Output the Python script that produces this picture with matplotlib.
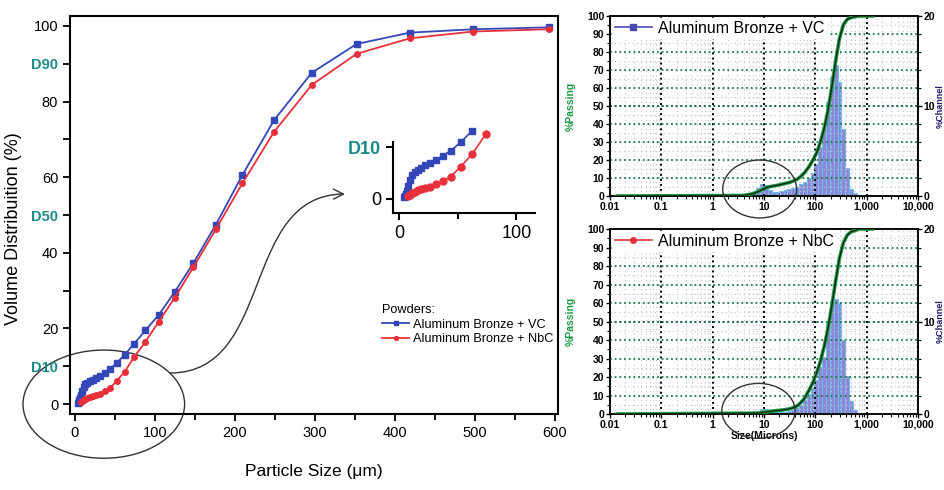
import numpy as np
import matplotlib.pyplot as plt
from matplotlib.patches import Ellipse, FancyArrowPatch
from matplotlib.path import Path
from matplotlib.lines import Line2D

plt.rcParams['font.family'] = ['Liberation Sans', 'DejaVu Sans']

# cumulative volume distribution (%) vs particle size (um)
vc_size = [3.89, 4.62, 5.5, 6.54, 7.78, 9.25, 11, 13.08, 15.56, 18.5, 22, 26.16,
           31.11, 37, 44, 52.33, 62.23, 74, 88, 104.7, 124.5, 148, 176, 209.3,
           248.9, 296, 352, 418.6, 497.8, 592]
vc_pass = [0.3, 0.6, 1.0, 1.6, 2.5, 3.6, 4.6, 5.2, 5.6, 6.0, 6.5, 7.0,
           7.5, 8.3, 9.3, 10.9, 13.1, 16.0, 19.5, 23.6, 29.6, 37.3, 47.4, 60.6,
           75.1, 87.6, 95.2, 98.2, 99.1, 99.6]
nbc_size = [7.78, 9.25, 11, 13.08, 15.56, 18.5, 22, 26.16, 31.11, 37, 44, 52.33,
            62.23, 74, 88, 104.7, 124.5, 148, 176, 209.3, 248.9, 296, 352,
            418.6, 497.8, 592]
nbc_pass = [0.5, 0.8, 1.1, 1.4, 1.7, 1.9, 2.1, 2.4, 2.8, 3.4, 4.3, 6.2,
            8.6, 12.5, 16.5, 21.8, 28.1, 36.2, 46.2, 58.4, 72.0, 84.4, 92.6,
            96.7, 98.5, 99.1]

# %channel histograms (right panels)
vc_chan = [0.0, 0.1, 0.3, 0.6, 0.9, 1.3, 1.2, 0.7, 0.5, 0.5, 0.6, 0.7,
           0.8, 0.9, 1.0, 1.3, 1.6, 2.0, 2.6, 3.6, 5.4, 7.7, 10.4, 13.2,
           14.6, 12.7, 7.4, 3.1, 0.8, 0.3]
nbc_chan = [0.2, 0.5, 0.5, 0.3, 0.2, 0.2, 0.2, 0.2, 0.3, 0.4, 0.7, 1.0,
            1.5, 2.2, 2.8, 3.7, 5.1, 6.2, 10.0, 12.2, 12.4, 12.0, 8.0,
            4.1, 1.4, 0.4]

# flat ends of the %passing curves on the log panels
low_end, high_end = [0.0138], [704, 1300]

main_yticks = [0, 10, 20, 30, 40, 50, 60, 70, 80, 90, 100]
main_ylabels = ['0', 'D10', '20', '', '40', 'D50', '60', '', '80', 'D90', '100']
log_ticks = [0.01, 0.1, 1, 10, 100, 1000, 10000]
log_labels = ['0.01', '0.1', '1', '10', '100', '1,000', '10,000']

BLUE = '#3447b8'
RED = '#e8303a'
TEAL = '#1d8a8a'
GREEN = '#1e9a45'

W, H = 945, 490
fig = plt.figure(figsize=(W / 100, H / 100), dpi=100)


def rect(x0, y0, x1, y1):
    # pixel box -> figure fraction
    return [x0 / W, 1 - y1 / H, (x1 - x0) / W, (y1 - y0) / H]


# ---- main cumulative plot ----
ax = fig.add_axes(rect(70, 16, 558, 414))
ax.plot(vc_size, vc_pass, '-s', color=BLUE, ms=4, lw=1.3)
ax.plot(nbc_size, nbc_pass, '-o', color=RED, ms=4, lw=1.3)
ax.set_xlim(-6.25, 603.75)
ax.set_ylim(-2.6, 102.6)
ax.set_xticks(range(0, 601, 100))
ax.set_xticks(range(50, 600, 100), minor=True)
ax.set_yticks(main_yticks)
ax.set_yticklabels(main_ylabels)
for lab in ax.get_yticklabels():
    if lab.get_text().startswith('D'):
        lab.set_color(TEAL)
        lab.set_fontweight('bold')
        lab.set_fontsize(8.5)
ax.tick_params(direction='out', length=5, width=1.3, labelsize=10.5)
ax.tick_params(which='minor', direction='out', length=4, width=1.3)
for s in ax.spines.values():
    s.set_linewidth(1.5)
ax.set_xlabel('Particle Size (\u03bcm)', fontsize=12.5)
ax.xaxis.set_label_coords(0.5, -0.125)
ax.set_ylabel('Volume Distribuition (%)', fontsize=13)
ax.yaxis.set_label_coords(-0.098, 0.467)

ax.add_patch(Ellipse((36, 0), 202, 28.6, fill=False, ec='#333333', lw=1.0,
                     clip_on=False))

leg = ax.legend(['Aluminum Bronze + VC', 'Aluminum Bronze + NbC'],
                title='Powders:', loc='upper left',
                bbox_to_anchor=(376 / W, 1 - 298 / H),
                bbox_transform=fig.transFigure, frameon=False, fontsize=9.2,
                title_fontsize=9.2, handlelength=2.1, handletextpad=0.3,
                labelspacing=0.2, borderpad=0, alignment='left',
                markerscale=0.7)

# curved arrow from the ellipse to the inset
pts = [(170, 373), (275, 373), (240, 195), (345, 194)]
verts = [(x / W, 1 - y / H) for x, y in pts]
arrow = FancyArrowPatch(path=Path(verts, [Path.MOVETO, Path.CURVE4,
                                          Path.CURVE4, Path.CURVE4]),
                        arrowstyle='->', mutation_scale=18, lw=1.0,
                        color='#333333', transform=fig.transFigure)
fig.patches.append(arrow)

# ---- inset ----
ins = fig.add_axes(rect(393, 120, 535, 213))
ins.plot(vc_size[:17], vc_pass[:17], '-s', color=BLUE, ms=5, lw=1.2)
ins.plot(nbc_size[:14], nbc_pass[:14], '-o', color=RED, ms=5, lw=1.2)
ins.set_xlim(-5.4, 116)
ins.set_ylim(-2.7, 15.2)
ins.spines['top'].set_visible(False)
ins.spines['right'].set_visible(False)
ins.spines['left'].set_bounds(-2.7, 11)
for s in ins.spines.values():
    s.set_linewidth(1.5)
ins.patch.set_visible(False)
ins.set_xticks([0, 100])
ins.set_xticks([50], minor=True)
ins.set_yticks([0, 10])
ins.set_yticklabels(['0', 'D10'])
ins.get_yticklabels()[1].set_color(TEAL)
ins.get_yticklabels()[1].set_fontweight('bold')
ins.tick_params(direction='out', length=5, width=1.5, labelsize=13)
ins.tick_params(which='minor', direction='out', length=4, width=1.5)


# ---- right log panels ----
def psd_panel(box, sizes, passing, chan, label, color, marker, xlabel):
    a = fig.add_axes(rect(*box))
    a2 = a.twinx()
    a.set_zorder(a2.get_zorder() + 1)
    a.patch.set_visible(False)

    s = np.array(sizes)
    lo, hi = s / 2 ** 0.125, s * 2 ** 0.125
    a2.bar(lo, chan, width=hi - lo, align='edge', color='#8f83d8',
           edgecolor='#6cc2e4', lw=0.8, zorder=2)
    a2.set_ylim(0, 20)
    a2.set_yticks([0, 10, 20])
    a2.set_yticks(range(2, 20, 2), minor=True)
    a2.grid(axis='y', which='major', color='#23235e', ls=(0, (1, 1.6)), lw=1.3)
    a2.set_ylabel('%Channel', color='#1c1c70', fontsize=6.5, fontweight='bold')
    a2.yaxis.set_label_coords(1.058, 0.5)

    xs = low_end + list(sizes) + high_end
    ys = [0] + list(passing) + [100, 100]
    a.plot(xs, ys, color=GREEN, lw=2.6, zorder=4)
    a.plot(xs, ys, color='#0c2a12', lw=1.0, zorder=5)
    a.set_xscale('log')
    a.set_xlim(0.01, 10000)
    a.set_ylim(0, 100)
    a.set_xticks(log_ticks)
    a.set_xticklabels(log_labels)
    a.set_yticks(range(0, 101, 10))
    a.set_yticks(range(5, 100, 10), minor=True)
    a.grid(axis='x', which='major', color='black', ls=(0, (1, 1.6)), lw=1.4)
    a.grid(axis='y', which='major', color='#1f7a4a', ls=(0, (1, 1.6)), lw=1.3)
    a.grid(which='minor', color='#c6bdd6', ls=(0, (1, 3)), lw=0.8)
    a.set_ylabel('%Passing', color=GREEN, fontsize=7.5, fontweight='bold')
    a.yaxis.set_label_coords(-0.11, 0.5)
    if xlabel:
        a.set_xlabel(xlabel, fontsize=7.5, fontweight='bold', labelpad=1)

    for axis in (a, a2):
        axis.tick_params(direction='out', length=3, width=1.0, labelsize=7.5,
                         pad=1.2)
        axis.tick_params(which='minor', direction='out', length=2, width=0.8)
        for t in axis.get_xticklabels() + axis.get_yticklabels():
            t.set_fontweight('bold')
        for sp in axis.spines.values():
            sp.set_linewidth(1.1)

    h = Line2D([], [], color=color, marker=marker, ms=4, lw=1.2)
    lg = a.legend([h], [label], loc='upper left', fontsize=11.5, frameon=True,
                  fancybox=False, framealpha=1, edgecolor='white',
                  borderaxespad=0.15, borderpad=0.15, handlelength=2.3,
                  handletextpad=0.4)
    lg.set_zorder(10)
    return a


top = psd_panel((610, 16, 918, 196), vc_size, vc_pass, vc_chan,
                'Aluminum Bronze + VC', '#4a4ab4', 's', None)
bot = psd_panel((610, 229, 918, 414), nbc_size, nbc_pass, nbc_chan,
                'Aluminum Bronze + NbC', '#e0303a', 'o', 'Size(Microns)')

top.add_patch(Ellipse((0.486, 0.039), 0.240, 0.322, transform=top.transAxes,
                      fill=False, ec='#333333', lw=1.0, clip_on=False,
                      zorder=6))
bot.add_patch(Ellipse((0.482, 0.017), 0.238, 0.297, transform=bot.transAxes,
                      fill=False, ec='#333333', lw=1.0, clip_on=False,
                      zorder=6))

fig.savefig('out.png', dpi=100)
